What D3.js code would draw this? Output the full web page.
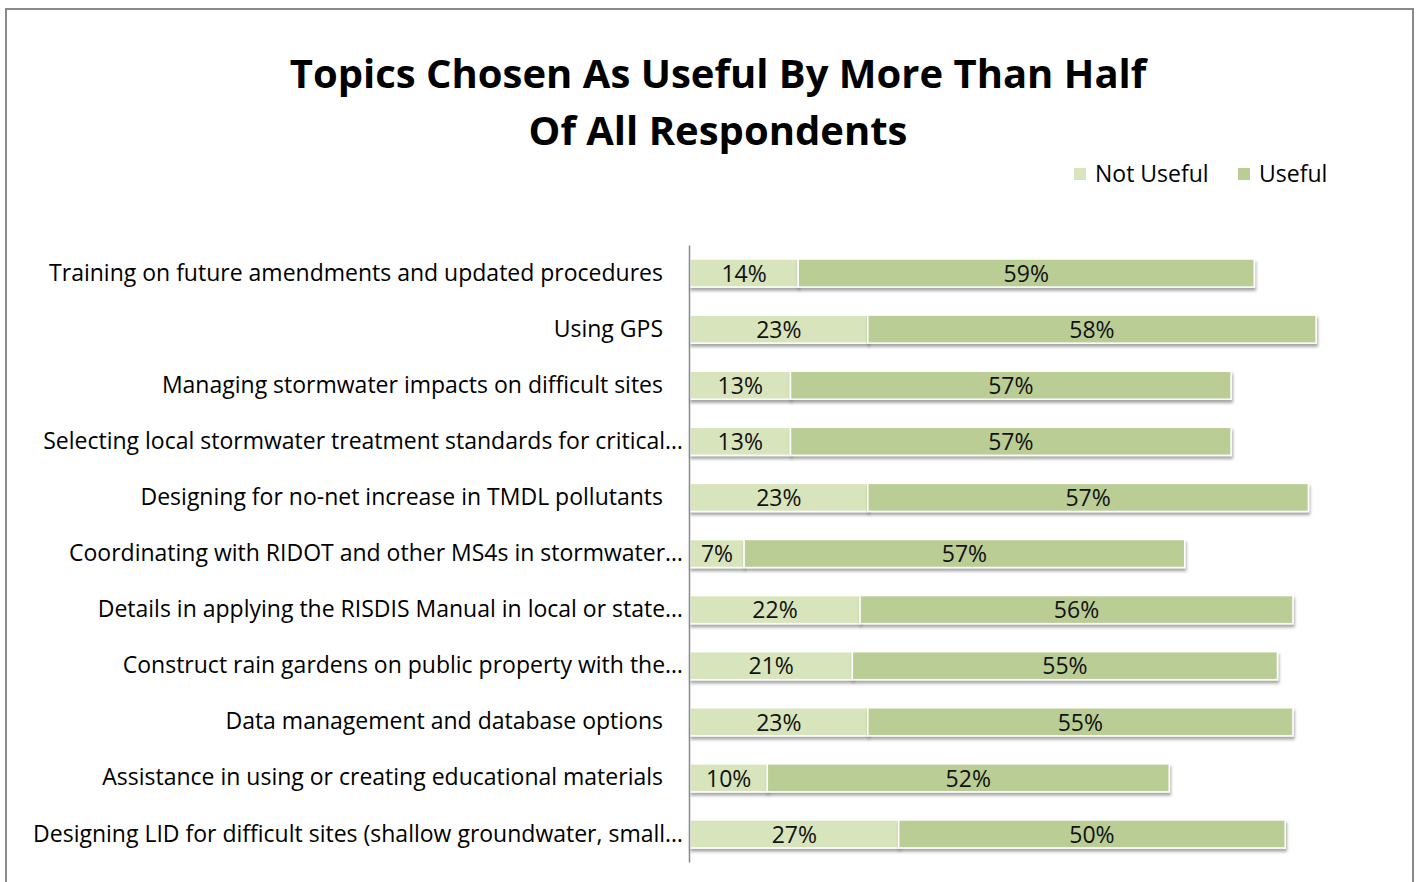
<!DOCTYPE html>
<html>
<head>
<meta charset="utf-8" />
<title>Topics Chosen As Useful</title>
<script src="https://d3js.org/d3.v7.min.js"></script>
<style>
    body { margin: 0; background: #ffffff; }
    svg { display: block; font-family: "Open Sans", sans-serif; }
    .label { font-size: 23px; fill: #000; }
    .val { font-size: 23px; fill: #111; }
    .title { font-size: 40px; font-weight: bold; fill: #000; }
</style>
</head>
<body>
<svg id="chart" width="1416" height="882"></svg>
<script>
    var topics = [
        "Training on future amendments and updated procedures",
        "Using GPS",
        "Managing stormwater impacts on difficult sites",
        "Selecting local stormwater treatment standards for critical…",
        "Designing for no-net increase in TMDL pollutants",
        "Coordinating with RIDOT and other MS4s in stormwater…",
        "Details in applying the RISDIS Manual in local or state…",
        "Construct rain gardens on public property with the…",
        "Data management and database options",
        "Assistance in using or creating educational materials",
        "Designing LID for difficult sites (shallow groundwater, small…"
    ];
    var notUseful = [14, 23, 13, 13, 23, 7, 22, 21, 23, 10, 27];
    var useful = [59, 58, 57, 57, 57, 57, 56, 55, 55, 52, 50];
    var seriesNames = ["Not Useful", "Useful"];
    var colors = ["#d8e4bc", "#b9cd95"];

    var svg = d3.select("#chart");

    // outer frame
    svg.append("rect")
        .attr("x", 6).attr("y", 9)
        .attr("width", 1407).attr("height", 900)
        .attr("fill", "none")
        .attr("stroke", "#8a8a8a")
        .attr("stroke-width", 2);

    var defs = svg.append("defs");
    var f = defs.append("filter").attr("id", "shadow")
        .attr("x", "-5%").attr("y", "-30%").attr("width", "110%").attr("height", "180%");
    f.append("feDropShadow")
        .attr("dx", 1).attr("dy", 3)
        .attr("stdDeviation", 1.6)
        .attr("flood-color", "#000")
        .attr("flood-opacity", 0.35);

    // title
    svg.append("text").attr("class", "title")
        .attr("x", 718).attr("y", 88).attr("text-anchor", "middle")
        .text("Topics Chosen As Useful By More Than Half");
    svg.append("text").attr("class", "title")
        .attr("x", 718).attr("y", 145).attr("text-anchor", "middle")
        .text("Of All Respondents");

    var data = topics.map(function(t, i) {
        return { topic: t, notUseful: notUseful[i], useful: useful[i] };
    });

    var stack = d3.stack().keys(["notUseful", "useful"]);
    var layers = stack(data);

    var x0 = 690;
    var x = d3.scaleLinear().domain([0, 90]).range([x0, x0 + 90 * 7.73]);
    var y = d3.scaleBand().domain(topics).range([245, 862])
        .paddingInner(0.5).paddingOuter(0.25);

    // category labels
    svg.selectAll(".label")
        .data(topics)
        .enter().append("text")
        .attr("class", "label")
        .attr("text-anchor", "end")
        .attr("x", function(d) { return d.slice(-1) === "…" ? x0 - 7 : x0 - 27; })
        .attr("y", function(d) { return y(d) + y.bandwidth() / 2; })
        .attr("dy", "0.33em")
        .text(function(d) { return d; });

    // bars
    var groups = svg.selectAll(".layer")
        .data(layers)
        .enter().append("g")
        .attr("class", "layer")
        .attr("fill", function(d, i) { return colors[i]; });

    groups.selectAll("rect")
        .data(function(d) { return d; })
        .enter().append("rect")
        .attr("x", function(d) { return x(d[0]); })
        .attr("y", function(d) { return y(d.data.topic); })
        .attr("width", function(d) { return x(d[1]) - x(d[0]); })
        .attr("height", y.bandwidth())
        .attr("stroke", "#ffffff")
        .attr("stroke-width", 1.5)
        .attr("filter", "url(#shadow)");

    groups.selectAll(".val")
        .data(function(d) { return d; })
        .enter().append("text")
        .attr("class", "val")
        .attr("text-anchor", "middle")
        .attr("x", function(d) { return (x(d[0]) + x(d[1])) / 2; })
        .attr("y", function(d) { return y(d.data.topic) + y.bandwidth() / 2; })
        .attr("dy", "0.38em")
        .text(function(d) { return (d[1] - d[0]) + "%"; });

    // axis line, drawn over the bar edges
    var yAxis = d3.axisLeft(y).tickSize(0).tickSizeOuter(0).tickFormat("");
    svg.append("g")
        .attr("transform", "translate(" + (x0 - 1) + ",0)")
        .call(yAxis)
        .call(function(g) {
            g.select(".domain").attr("stroke", "#8a8a8a").attr("stroke-width", 1.5);
        });

    // legend
    var legendX = [1074, 1238];
    var legend = svg.selectAll(".legend")
        .data(seriesNames)
        .enter().append("g")
        .attr("class", "legend")
        .attr("transform", function(d, i) { return "translate(" + legendX[i] + ",168)"; });
    legend.append("rect")
        .attr("width", 12).attr("height", 12)
        .attr("fill", function(d, i) { return colors[i]; });
    legend.append("text")
        .attr("class", "label")
        .attr("x", 21).attr("y", 6).attr("dy", "0.36em")
        .text(function(d) { return d; });
</script>
</body>
</html>
